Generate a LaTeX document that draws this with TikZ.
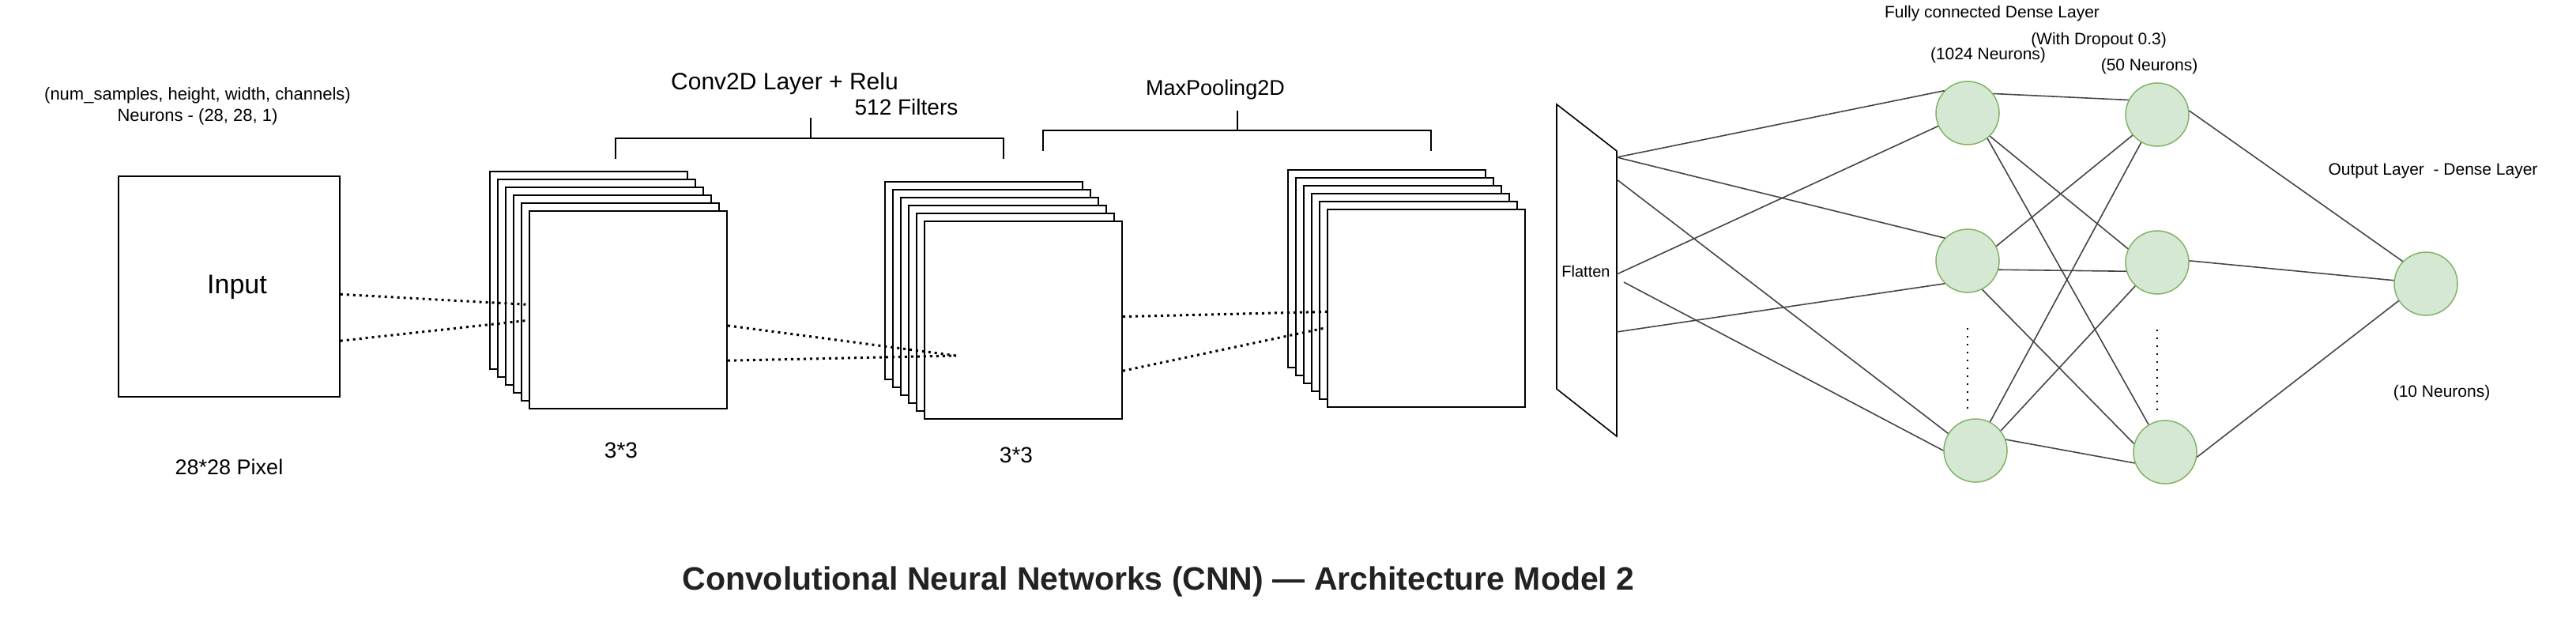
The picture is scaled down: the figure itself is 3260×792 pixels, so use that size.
\documentclass[tikz,border=0pt]{standalone}
\usepackage{fontspec}
\setmainfont{Liberation Sans}
\usetikzlibrary{positioning}
\definecolor{neuronfill}{HTML}{D5E8D4}
\definecolor{neuronline}{HTML}{82B366}
\definecolor{linkgray}{HTML}{454545}
\definecolor{titlegray}{HTML}{222222}
\tikzset{
    x=1pt, y=-1pt, % one unit is one pixel of the sketch, y grows downwards
    fmap/.style={draw, fill=white, line width=2pt, minimum width=250pt, minimum height=250pt, inner sep=0pt}, % one feature map of a stack
    inbox/.style={draw, line width=1.6pt, minimum width=280pt, minimum height=279pt, inner sep=0pt},
    neuron/.style={circle, draw=neuronline, fill=neuronfill, line width=1.5pt, minimum size=80pt, inner sep=0pt},
    link/.style={draw=linkgray, line width=1.6pt},
    dotlink/.style={draw, line width=3pt, dash pattern=on 3pt off 5pt},
    vdots/.style={draw, line width=2pt, dash pattern=on 2pt off 8pt},
    brace/.style={draw, line width=2.5pt},
    note/.style={inner sep=0pt, font=\fontsize{21}{25}\selectfont}, % small hand written labels
    bignote/.style={inner sep=0pt, font=\fontsize{28}{32}\selectfont},
    caption/.style={inner sep=0pt, text=titlegray, font=\bfseries\fontsize{41}{48}\selectfont},
}
\begin{document}
\begin{tikzpicture}
      \useasboundingbox (0,0) rectangle (3260,792);
      % input image
      \node (q_input) [inbox] at (290,362.5) {};
      \node (q_inputlbl) [bignote, font=\fontsize{34}{38}\selectfont] at (300,363) {Input};
      \node (q_shape) [note, font=\fontsize{22}{26}\selectfont] at (250,121) {(num\_samples, height, width, channels)};
      \node (q_neurons) [note, font=\fontsize{22}{26}\selectfont] at (250,148) {Neurons - (28, 28, 1)};
      \node (q_pixel) [bignote, font=\fontsize{27}{30}\selectfont] at (290,591) {28*28 Pixel};

      % feature map stacks
      \foreach \i in {0,...,5}
        \node (q_conv\i) [fmap] at (745+10*\i,342+10*\i) {};
      \foreach \i in {0,...,5}
        \node (q_convb\i) [fmap] at (1245+10*\i,355+10*\i) {};
      \foreach \i in {0,...,5}
        \node (q_pool\i) [fmap] at (1755+10*\i,340+10*\i) {};
      \node (q_kernel) [bignote] at (786,570) {3*3};
      \node (q_kernelb) [bignote] at (1286,576) {3*3};
      \coordinate (q_meet) at (1210,450);

      % brackets over the layers
      \draw[brace] (779,201) -- (779,175) -- (1270,175) -- (1270,201);
      \draw[brace] (1026,175) -- (1026,149);
      \draw[brace] (1320,191) -- (1320,165) -- (1811,165) -- (1811,191);
      \draw[brace] (1566,165) -- (1566,140);
      \node (q_convlbl) [bignote, font=\fontsize{30}{34}\selectfont] at (993,106) {Conv2D Layer + Relu};
      \node (q_filters) [bignote] at (1147,135) {512 Filters};
      \node (q_poollbl) [bignote, font=\fontsize{27}{30}\selectfont] at (1538,114) {MaxPooling2D};

      \path[dotlink]
      (q_input.-4)     edge  (q_conv5.177)
      (q_input.-26)    edge  (q_conv5.186)
      (q_conv5.-9)     edge  (q_meet)
      (q_conv5.-27)    edge  (q_meet)
      (q_convb5.2)     edge  (q_pool5.182)
      (q_convb5.-27)   edge  (q_pool5.191)
      ;

      % flatten
      \draw[line width=1.6pt] (1970,132) -- (2046,191) -- (2046,552) -- (1970,492) -- cycle;
      \node (q_flatten) [note, font=\fontsize{20}{24}\selectfont] at (2007,343) {Flatten};
      \coordinate (q_f1) at (2046,199);
      \coordinate (q_f2) at (2046,227);
      \coordinate (q_f3) at (2046,347);
      \coordinate (q_f4) at (2055,357);
      \coordinate (q_f5) at (2046,420);

      % dense layers
      \node (q_fc1) [neuron] at (2490,143) {};
      \node (q_fc2) [neuron] at (2490,330) {};
      \node (q_fc3) [neuron] at (2500,570) {};
      \node (q_dr1) [neuron] at (2730,145) {};
      \node (q_dr2) [neuron] at (2730,332) {};
      \node (q_dr3) [neuron] at (2740,572) {};
      \node (q_out) [neuron] at (3070,359) {};
      \draw[vdots] (q_fc2.south) ++(0,44) -- ++(0,106);
      \draw[vdots] (q_dr2.south) ++(0,44) -- ++(0,106);

      \node (q_fclbl) [note] at (2521,17) {Fully connected Dense Layer};
      \node (q_droplbl) [note] at (2656,51) {(With Dropout 0.3)};
      \node (q_fcnum) [note] at (2516,70) {(1024 Neurons)};
      \node (q_drnum) [note] at (2720,84) {(50 Neurons)};
      \node (q_outlbl) [note] at (3079,216) {Output Layer\ \ - Dense Layer};
      \node (q_outnum) [note] at (3090,497) {(10 Neurons)};

      \path[link]
      (q_f1)       edge  (q_fc1.136)
      (q_f1)       edge  (q_fc2.135)
      (q_f2)       edge  (q_fc3.148)
      (q_f3)       edge  (q_fc1.204)
      (q_f4)       edge  (q_fc3.180)
      (q_f5)       edge  (q_fc2.225)
      (q_fc1.37)   edge  (q_dr1.153)
      (q_fc1.-52)  edge  (q_dr3.121)
      (q_fc1.-46)  edge  (q_dr2.155)
      (q_fc2.27)   edge  (q_dr1.220)
      (q_fc2.-16)  edge  (q_dr2.196)
      (q_fc2.-63)  edge  (q_dr3.165)
      (q_fc3.63)   edge  (q_dr1.240)
      (q_fc3.38)   edge  (q_dr2.227)
      (q_fc3.20)   edge  (q_dr3.200)
      (q_dr1.7)    edge  (q_out.136)
      (q_dr2.3)    edge  (q_out.174)
      (q_dr3.-9)   edge  (q_out.212)
      ;

      \node (q_title) [caption] at (1466,736) {Convolutional Neural Networks (CNN) — Architecture Model 2};
\end{tikzpicture}
\end{document}
